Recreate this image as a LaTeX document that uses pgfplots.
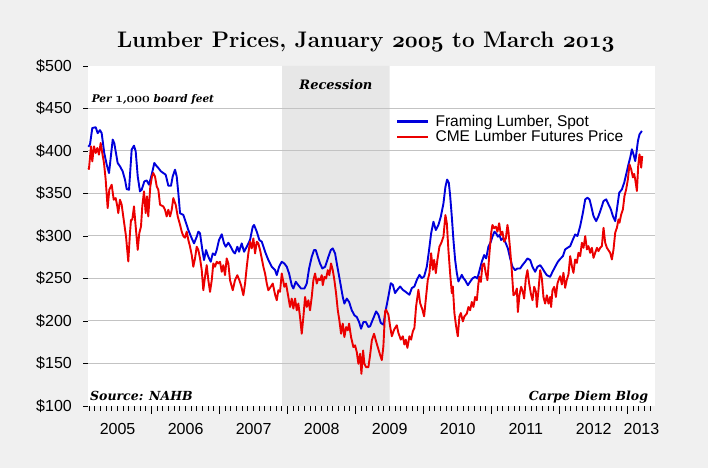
\documentclass[border=0pt]{standalone}
\usepackage{fontspec}
\usepackage{pgfplots}
\pgfplotsset{compat=1.18}
\newfontfamily\arial{Liberation Sans}
\newfontfamily\dvs{DejaVu Serif}
\DeclareFontFamily{OML}{cmmx}{\skewchar\font'177}
\DeclareFontShape{OML}{cmmx}{b}{it}{<->cmmib10}{}
\newcommand{\osf}[1]{{\fontencoding{OML}\fontfamily{cmmx}\fontseries{b}\fontshape{it}\selectfont #1}}
\definecolor{bgc}{RGB}{240,240,240}
\definecolor{bandc}{RGB}{231,231,231}
\definecolor{gridc}{RGB}{195,195,195}
\definecolor{blueL}{RGB}{0,0,220}
\definecolor{redL}{RGB}{235,0,0}
\begin{document}
\begin{tikzpicture}
\fill[bgc] (0bp,0bp) rectangle (708bp,468bp);
\path[use as bounding box] (0bp,0bp) rectangle (708bp,468bp);
\begin{axis}[
  at={(88bp,62bp)}, anchor=south west, scale only axis,
  width=567bp, height=340bp,
  xmin=2005.065, xmax=2013.40, ymin=100, ymax=500,
  clip=false,
  axis background/.style={fill=white},
  axis line style={draw=none},
  tick pos=left, tick align=outside,
  major tick length=5bp, minor tick length=5bp,
  tick style={black, line width=0.9bp},
  ytick={100,150,200,250,300,350,400,450,500},
  yticklabels={\$100,\$150,\$200,\$250,\$300,\$350,\$400,\$450,\$500},
  yticklabel style={font={\arial\fontsize{16bp}{18bp}\selectfont}, inner sep=0pt, xshift=-11bp},
  xtick={2005.5,2006.5,2007.5,2008.5,2009.5,2010.5,2011.5,2012.5,2013.2},
  xticklabels={2005,2006,2007,2008,2009,2010,2011,2012,2013},
  xticklabel style={font={\arial\fontsize{16bp}{18bp}\selectfont}, inner sep=0pt, yshift=-12bp},
  major x tick style={draw=none},
  minor xtick={2005.0833,2005.1667,...,2013.34},
  extra x ticks={2006,2007,2008,2009,2010,2011,2012,2013},
  extra x tick labels={},
  extra x tick style={major x tick style={draw=black, line width=0.9bp}, major tick length=8bp},
  title={\fontsize{22.5bp}{26bp}\selectfont\bfseries Lumber Prices, January \osf{2005} to March \osf{2013}},
  title style={at={(0.49,1.037)}, anchor=base, inner sep=0pt},
  legend style={at={(0.5432,0.856)}, anchor=north west, draw=none, fill=none,
    inner sep=0pt, outer sep=0pt, row sep=2.9bp, column sep=6bp,
    nodes={inner sep=0pt}, font={\arial\fontsize{15.5bp}{17bp}\selectfont}},
  legend cell align=left,
  legend image code/.code={\draw[#1, line width=2.6bp] (0bp,0bp) -- (31bp,0bp);},
]
\addplot[fill=bandc, draw=none, forget plot] coordinates {(2007.918,100) (2009.499,100) (2009.499,500) (2007.918,500) (2007.918,100)};
\addplot[gridc, line width=1bp, forget plot] coordinates {(2005.065,150) (2013.40,150)};
\addplot[gridc, line width=1bp, forget plot] coordinates {(2005.065,200) (2013.40,200)};
\addplot[gridc, line width=1bp, forget plot] coordinates {(2005.065,250) (2013.40,250)};
\addplot[gridc, line width=1bp, forget plot] coordinates {(2005.065,300) (2013.40,300)};
\addplot[gridc, line width=1bp, forget plot] coordinates {(2005.065,350) (2013.40,350)};
\addplot[gridc, line width=1bp, forget plot] coordinates {(2005.065,400) (2013.40,400)};
\addplot[gridc, line width=1bp, forget plot] coordinates {(2005.065,450) (2013.40,450)};

\addplot[blueL, line width=1.9bp, line join=round] coordinates {
(2005.070,405) (2005.094,407.5) (2005.128,427) (2005.178,428) (2005.207,421) (2005.241,424.5) (2005.266,421)
(2005.304,397.6) (2005.340,384) (2005.374,374) (2005.428,413.4) (2005.451,409.4) (2005.501,385.9) (2005.535,382)
(2005.575,376) (2005.609,366.2) (2005.634,355.2) (2005.668,354.4) (2005.707,401.6) (2005.741,406.3) (2005.766,399.6)
(2005.796,370.1) (2005.829,352.5) (2005.854,354.4) (2005.893,364.2) (2005.928,365.4) (2005.962,360.3) (2006.001,372.1)
(2006.040,385.9) (2006.069,382.7) (2006.099,380) (2006.138,376) (2006.172,374.1) (2006.207,372.1) (2006.246,359.1)
(2006.285,359.1) (2006.310,370.1) (2006.344,378) (2006.369,370.1) (2006.393,350.5)
(2006.418,326.8) (2006.466,324.8) (2006.491,318.9) (2006.540,307) (2006.590,297.2) (2006.624,291.3) (2006.663,299.2)
(2006.687,305.1) (2006.712,303.1) (2006.746,283.5) (2006.771,271.7) (2006.800,283.5) (2006.834,275.6) (2006.869,269.7)
(2006.899,279.5) (2006.932,277.6) (2006.957,283.5) (2006.991,295.3) (2007.031,302) (2007.065,291.3) (2007.090,287.4)
(2007.128,292.1) (2007.163,287.4) (2007.201,281.5) (2007.226,279.5) (2007.260,287.4) (2007.285,281.5) (2007.325,291.3)
(2007.359,281.5) (2007.399,287.4) (2007.447,295.3) (2007.487,311) (2007.506,313) (2007.546,305.1) (2007.584,295.3)
(2007.619,293.3) (2007.668,281.5) (2007.716,271.7) (2007.766,263.8) (2007.815,259.8) (2007.840,254)
(2007.874,263.8) (2007.913,269.7) (2007.951,267.7) (2007.987,263.8) (2008.021,255.9) (2008.060,242.1) (2008.084,238.2)
(2008.119,246.1) (2008.157,242.1) (2008.197,238.2) (2008.246,238.2) (2008.281,244.1) (2008.315,261.8) (2008.354,275.6)
(2008.388,283.5) (2008.413,283.5) (2008.443,275.6) (2008.476,267.7) (2008.510,261.8) (2008.550,263.8) (2008.575,269.7)
(2008.599,275.6) (2008.634,283.5) (2008.663,285.4) (2008.697,279.5) (2008.731,263.8) (2008.771,246.1) (2008.810,228.3)
(2008.834,220.5) (2008.869,226.4) (2008.903,222.4) (2008.943,212.6) (2008.981,206.7) (2009.016,204.7) (2009.050,198.8)
(2009.079,190.9) (2009.113,198.8) (2009.149,198.8) (2009.187,192.9)
(2009.212,193.8) (2009.251,201.6) (2009.300,211.3) (2009.334,207.4) (2009.369,197.7) (2009.407,195.7) (2009.443,213.3)
(2009.481,228.9) (2009.516,244.5) (2009.546,242.6) (2009.579,232.8) (2009.613,236.7) (2009.653,240.6) (2009.693,236.7)
(2009.726,234.8) (2009.790,230.9) (2009.825,238.7) (2009.863,240.6) (2009.899,248.4) (2009.937,254.3) (2009.972,250.4)
(2010.006,252.3) (2010.046,264.1) (2010.079,283.6) (2010.109,303.1) (2010.143,316.8) (2010.178,307) (2010.216,312.9)
(2010.251,322.7) (2010.290,338.3) (2010.319,357.8) (2010.344,366.4) (2010.369,362.5) (2010.388,348) (2010.413,322.7)
(2010.437,295.3) (2010.462,271.9) (2010.487,256.3) (2010.510,246.5) (2010.535,250.4) (2010.560,254.3) (2010.584,250.4)
(2010.609,248) (2010.649,242.1) (2010.682,246.1) (2010.716,250) (2010.756,252) (2010.790,250) (2010.815,257.9)
(2010.854,269.7) (2010.888,277.6) (2010.918,273.6) (2010.951,287.4) (2010.987,293.3) (2011.010,299.2) (2011.040,305.1)
(2011.065,303.1) (2011.090,299.2) (2011.113,301.2) (2011.138,295.3) (2011.163,297.2) (2011.197,293.3) (2011.237,285.4)
(2011.271,273.6) (2011.304,263.8) (2011.344,259.8) (2011.378,261.8) (2011.418,261.8) (2011.451,265.7) (2011.491,269.7)
(2011.525,273.6) (2011.565,271.7) (2011.599,263.8) (2011.638,257.9) (2011.672,263.8) (2011.712,265.7) (2011.746,261.8)
(2011.775,257.9) (2011.810,253.9) (2011.859,252) (2011.893,257.9) (2011.932,263.8) (2011.972,269.7)
(2012.006,273) (2012.046,276.3) (2012.079,284.2) (2012.113,286.1) (2012.153,288.1) (2012.193,295.9) (2012.226,301.8)
(2012.260,299.9) (2012.300,311.6) (2012.340,327.3) (2012.374,343.1) (2012.407,345) (2012.437,343.1) (2012.462,335.2)
(2012.496,323.4) (2012.535,317.5) (2012.569,323.4) (2012.604,331.3) (2012.643,341.1) (2012.682,343.1) (2012.716,337.2)
(2012.751,331.3) (2012.781,323.4) (2012.815,317.5) (2012.840,331.3) (2012.874,350.9) (2012.913,354.8) (2012.947,362.7)
(2012.976,372.5) (2013.010,384.3) (2013.035,392.1) (2013.060,402) (2013.084,396.1) (2013.109,388.2) (2013.124,396.1)
(2013.149,411.8) (2013.172,419.6) (2013.207,423.6)
};
\addlegendentry{Framing Lumber, Spot}

\addplot[redL, line width=1.9bp, line join=round] coordinates {
(2005.070,380) (2005.079,378.8) (2005.109,405.5) (2005.128,387.8) (2005.153,405.5) (2005.178,397.6) (2005.202,403.5)
(2005.226,395.7) (2005.251,409.4) (2005.275,397.6) (2005.300,385.9) (2005.325,366.2) (2005.354,332.8) (2005.378,354.4)
(2005.413,360.3) (2005.443,342.7) (2005.472,344.6) (2005.496,334.8) (2005.510,326.9) (2005.535,342.7) (2005.560,336.8)
(2005.590,319.1) (2005.624,299.4) (2005.657,270) (2005.682,303.3) (2005.697,319.1) (2005.716,319.1) (2005.741,334.8)
(2005.766,311.2) (2005.796,283.7) (2005.819,303.3) (2005.844,311.2) (2005.863,334.8) (2005.888,352.5) (2005.913,326.9)
(2005.932,346.6) (2005.951,323) (2005.981,358.4) (2006.006,370.1) (2006.025,374.1) (2006.050,370.1) (2006.075,358.4)
(2006.099,354.4) (2006.124,336.8) (2006.172,334.8) (2006.197,330.9) (2006.222,323) (2006.246,330.9) (2006.271,323)
(2006.296,330.9) (2006.319,344.6) (2006.354,336.8) (2006.384,323) (2006.418,313.2) (2006.443,305) (2006.466,300)
(2006.491,298)
(2006.516,305.1) (2006.540,295.3) (2006.565,287.4) (2006.590,277.6) (2006.613,263.8) (2006.638,273.6) (2006.663,287.4)
(2006.687,283.5) (2006.712,273.6) (2006.737,259.8) (2006.760,236.2) (2006.785,252) (2006.810,265.7) (2006.834,248)
(2006.859,234.3) (2006.884,248) (2006.907,267.7) (2006.932,263.8) (2006.957,269.7) (2006.981,267.7) (2007.006,269.7)
(2007.031,257.9) (2007.054,265.7) (2007.079,253.9) (2007.104,273.6) (2007.128,267.7) (2007.153,248) (2007.193,236.2)
(2007.226,248) (2007.260,253.9) (2007.290,248) (2007.315,242.1) (2007.349,230.3) (2007.374,244.1) (2007.399,263.8)
(2007.422,279.5) (2007.447,293.3) (2007.472,285.4) (2007.496,297.2) (2007.521,279.5) (2007.546,293.3) (2007.569,291.3)
(2007.594,283.5) (2007.619,273.6) (2007.643,263.8) (2007.668,255.9) (2007.693,244.1) (2007.716,236.2) (2007.751,240.2)
(2007.781,244.1) (2007.815,231) (2007.840,224.4)
(2007.863,236.2) (2007.888,234.3) (2007.913,255.9) (2007.951,240.2) (2007.976,244.1) (2008.010,228.3) (2008.035,216.5)
(2008.060,226.4) (2008.084,214.6) (2008.109,226.4) (2008.134,212.6) (2008.157,220.5) (2008.182,204.7) (2008.207,185)
(2008.231,204.7) (2008.256,228.3) (2008.281,216.5) (2008.304,224.4) (2008.329,212.6) (2008.354,228.3) (2008.378,248)
(2008.403,255.9) (2008.428,244.1) (2008.451,250) (2008.476,248) (2008.501,253.9) (2008.516,242.1) (2008.540,251.9)
(2008.565,250) (2008.590,259.8) (2008.613,253.9) (2008.638,267.7) (2008.663,259.8) (2008.687,248) (2008.712,232.3)
(2008.737,212.6) (2008.760,200.8) (2008.785,185) (2008.810,196.9) (2008.834,181.1) (2008.859,192.9) (2008.884,189)
(2008.903,196.9) (2008.932,181.1) (2008.966,169.3) (2008.991,171.3) (2009.016,163.4) (2009.040,149.6) (2009.065,161.4)
(2009.084,137.8) (2009.109,165.4) (2009.128,149.6) (2009.153,145.7) (2009.187,145.7) (2009.212,160) (2009.237,177)
(2009.270,185) (2009.300,176) (2009.359,160) (2009.384,154) (2009.407,170) (2009.432,211)
(2009.447,213.3) (2009.481,207.4) (2009.506,193.8) (2009.531,182) (2009.565,189.8) (2009.604,195) (2009.628,186)
(2009.663,178.1) (2009.693,182) (2009.716,172.3) (2009.737,178) (2009.760,168.4) (2009.790,182) (2009.815,178.1)
(2009.840,187.9) (2009.863,191.8) (2009.888,217.2) (2009.922,236.7) (2009.947,221.1) (2009.981,213.3) (2010.006,205.5)
(2010.035,229) (2010.060,248.4) (2010.084,256.3) (2010.109,279.7) (2010.134,260.2) (2010.153,271.9) (2010.178,256.3)
(2010.201,271.9) (2010.231,287.5) (2010.256,291.4) (2010.290,299.2) (2010.319,324.6) (2010.340,314.8) (2010.363,283.6)
(2010.388,256.3) (2010.413,232.8) (2010.428,240.6) (2010.451,209.4) (2010.476,193.8) (2010.501,182) (2010.525,205.5)
(2010.546,209.4) (2010.575,199.6) (2010.599,205.5)
(2010.634,208.7) (2010.657,216.5) (2010.682,212.6) (2010.707,222.4) (2010.731,216.5) (2010.756,228.3) (2010.781,224.4)
(2010.804,244.1) (2010.819,252) (2010.840,246) (2010.863,265.7) (2010.888,267.7) (2010.913,255.9) (2010.937,248)
(2010.962,275.6) (2010.991,303.1) (2011.010,313) (2011.035,309.1) (2011.060,311) (2011.084,305.1) (2011.109,315)
(2011.134,301.2) (2011.157,305.1) (2011.182,293.3) (2011.207,297.2) (2011.231,313) (2011.246,305.1) (2011.271,283.5)
(2011.296,257.9) (2011.319,230.3) (2011.344,232.3) (2011.369,238.2) (2011.384,210.6) (2011.407,230.3) (2011.432,240.2)
(2011.457,234.3) (2011.476,226.4) (2011.501,250) (2011.525,259.8) (2011.550,244.1) (2011.575,232.3) (2011.599,224.4)
(2011.624,240.2) (2011.649,234.3) (2011.663,216.5) (2011.687,236.2) (2011.712,259.8) (2011.737,250) (2011.760,228.3)
(2011.785,220.5) (2011.810,230.3) (2011.834,220.5) (2011.859,228.3) (2011.873,216.5) (2011.893,236.2) (2011.918,240.2)
(2011.943,228.3) (2011.966,244.1) (2011.991,250)
(2012.006,252.7) (2012.031,242.9) (2012.054,256.7) (2012.079,239) (2012.104,248.8) (2012.128,254.7) (2012.153,276.3)
(2012.178,264.5) (2012.201,256.7) (2012.226,272.4) (2012.251,268.4) (2012.275,280.2) (2012.300,276.3) (2012.325,292)
(2012.349,286.1) (2012.374,299.9) (2012.399,284.2) (2012.422,288.1) (2012.447,280.2) (2012.472,286.1) (2012.496,274.3)
(2012.521,280.2) (2012.546,286.1) (2012.569,282.2) (2012.594,286.1) (2012.619,288.1) (2012.643,309.7) (2012.668,292)
(2012.693,286.1) (2012.741,280.2) (2012.766,272.4) (2012.790,284.2) (2012.815,303.8) (2012.840,309.7) (2012.863,319.5)
(2012.878,315.6) (2012.903,325.4) (2012.928,331.3) (2012.951,347) (2012.976,354.8) (2013.001,366.6) (2013.025,384.3)
(2013.050,378.4) (2013.075,369) (2013.094,373) (2013.109,366.6) (2013.134,352.9) (2013.153,382.3) (2013.172,396.1)
(2013.187,388.2) (2013.197,380.4) (2013.212,394.1)
};
\addlegendentry{CME Lumber Futures Price}

\node[anchor=base, inner sep=0pt, font={\dvs\fontsize{13bp}{16bp}\selectfont\bfseries\itshape}] at (axis cs:2008.71,472.9) {Recession};
\node[anchor=base west, inner sep=0pt, font={\dvs\fontsize{10.5bp}{13bp}\selectfont\bfseries\itshape}] at (axis cs:2005.118,456.5) {Per {\fontsize{13.5bp}{15bp}\osf{1}},{\fontsize{13.5bp}{15bp}\osf{000}} board feet};
\node[anchor=base west, inner sep=0pt, font={\dvs\fontsize{12.5bp}{15bp}\selectfont\bfseries\itshape}] at (axis cs:2005.094,106.5) {Source: NAHB};
\node[anchor=base east, inner sep=0pt, font={\dvs\fontsize{12.5bp}{15bp}\selectfont\bfseries\itshape}] at (axis cs:2013.30,106.5) {Carpe Diem Blog};
\end{axis}
\end{tikzpicture}
\end{document}
